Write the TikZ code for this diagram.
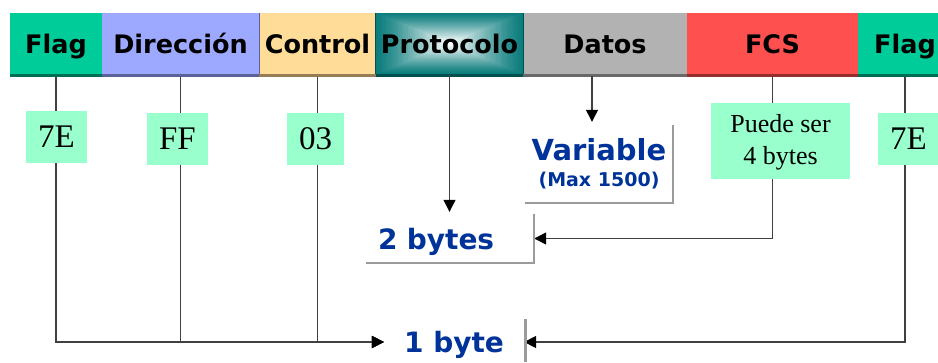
\documentclass[tikz,border=0pt]{standalone}
\usepackage{fontspec}
\setmainfont{Liberation Serif}
\newfontfamily\vfont{DejaVu Sans}
\usetikzlibrary{arrows.meta,calc}
\pgfdeclarelayer{background}
\pgfsetlayers{background,main}
\definecolor{flagc}{RGB}{0,204,153}
\definecolor{flagd}{RGB}{0,110,85}
\definecolor{dirc}{RGB}{157,169,255}
\definecolor{dird}{RGB}{90,99,153}
\definecolor{ctrlc}{RGB}{255,221,153}
\definecolor{ctrld}{RGB}{150,125,85}
\definecolor{protoc}{RGB}{12,125,125}
\definecolor{protod}{RGB}{0,80,80}
\definecolor{datosc}{RGB}{178,178,178}
\definecolor{datosd}{RGB}{105,105,105}
\definecolor{fcsc}{RGB}{255,80,80}
\definecolor{fcsd}{RGB}{150,45,45}
\definecolor{boxc}{RGB}{153,255,204}
\definecolor{bluet}{RGB}{0,51,153}
\definecolor{linec}{RGB}{64,64,64}
\definecolor{shadc}{RGB}{155,155,155}
\tikzset{
  seg/.style={rectangle, inner sep=0pt, minimum height=61pt,
    font=\vfont\bfseries\fontsize{25.5}{30}\selectfont,
    text height=19pt, text depth=0pt},
  valbox/.style={rectangle, fill=boxc, inner sep=0pt,
    font=\fontsize{33}{36}\selectfont},
  bluetxt/.style={text=bluet, font=\vfont\bfseries\fontsize{28}{30}\selectfont},
  conn/.style={draw=linec, line width=1.3pt},
  arr/.style={conn, -{Triangle[length=12pt,width=12pt,color=black]}},
  shadl/.style={draw=shadc, line width=2.2pt},
}
\begin{document}
\begin{tikzpicture}[x=1pt,y=-1pt]
\useasboundingbox (0,0) rectangle (938,362);
\begin{pgfonlayer}{background}
\fill[white] (0,0) rectangle (938,362);
\end{pgfonlayer}
% header segments
\node[seg, fill=flagc, minimum width=92pt] (flag1) at (56,43.5) {Flag};
\node[seg, fill=dirc, minimum width=157pt] (dir) at (180.5,43.5) {Dirección};
\node[seg, fill=ctrlc, minimum width=117pt] (ctrl) at (317.5,43.5) {Control};
\node[seg, minimum width=147pt] (proto) at (449.5,43.5) {Protocolo};
\node[seg, fill=datosc, minimum width=164pt] (datos) at (605,43.5) {Datos};
\node[seg, fill=fcsc, minimum width=171pt] (fcs) at (772.5,43.5) {FCS};
\node[seg, fill=flagc, minimum width=94pt] (flag2) at (905,43.5) {Flag};
% rectangular gradient of the Protocolo field
\begin{pgfonlayer}{background}
\foreach \i in {0,...,29} {
  \pgfmathsetmacro\s{1-\i/30}
  \pgfmathsetmacro\p{100*(\i/29)^1.2}
  \fill[white!\p!protoc] ($(proto.center)+(-73.5*\s,-30.5*\s)$) rectangle ($(proto.center)+(73.5*\s,30.5*\s)$);
}
\end{pgfonlayer}
% bottom shadows of the header
\foreach \s/\c in {flag1/flagd,dir/dird,ctrl/ctrld,proto/protod,datos/datosd,fcs/fcsd,flag2/flagd}
  \draw[\c, line width=2.4pt] ([yshift=-1.2pt]\s.south west) -- ([yshift=-1.2pt]\s.south east);
\draw[protod, line width=1pt] (proto.north west) -- (proto.south west);
\draw[protod, line width=1pt] (proto.north east) -- (proto.south east);
\draw[dird, line width=0.8pt] (dir.north east) -- (dir.south east);
% value boxes
\node[valbox, minimum width=61pt, minimum height=52pt] (v1) at (56.5,137) {7E};
\node[valbox, minimum width=61pt, minimum height=52pt] (v2) at (177.5,139) {FF};
\node[valbox, minimum width=57pt, minimum height=52pt] (v3) at (315.5,139) {03};
\node[valbox, minimum width=139pt, minimum height=76pt, align=center,
      font=\fontsize{26}{32}\selectfont, text depth=4pt] (v4) at (780.5,141) {Puede ser\\4 bytes};
\node[valbox, minimum width=61pt, minimum height=52pt] (v5) at (908.5,139) {7E};
% size labels
\node[text=bluet, font=\vfont\bfseries\fontsize{29}{26}\selectfont, align=center,
      inner sep=0pt, minimum width=148pt, minimum height=78pt] (var) at (599,164)
      {Variable\\{\fontsize{19}{26}\selectfont (Max 1500)}};
\node[bluetxt, inner xsep=12pt, inner ysep=0pt, text width=144pt, align=left,
      minimum height=49pt, text height=21pt, text depth=0pt] (twob) at (450,238.5) {2 bytes};
\node[bluetxt, inner xsep=20pt, inner ysep=0pt, text height=21pt, text depth=0pt] (oneb) at (454,342) {1 byte};
\coordinate (dline) at (592,76);
% shadows of labels
\draw[shadl] (var.north east) -- (var.south east) -- (var.south west);
\draw[shadl] (twob.north east) -- (twob.south east) -- (twob.south west);
\draw[shadl] (525.5,319) -- (525.5,362);
% connectors
\begin{pgfonlayer}{background}
\draw[arr] (flag1.south) |- (oneb.west);
\draw[arr] (dir.south) |- (oneb.west);
\draw[arr] (ctrl.south) |- (oneb.west);
\draw[arr] (flag2.south) |- (oneb.east);
\draw[arr] (fcs.south) |- (twob.east);
\end{pgfonlayer}
\draw[arr, shorten >=2pt] (proto.south) -- (proto.south |- twob.north);
\draw[arr, shorten >=3pt] (dline) -- (dline |- var.north);
\end{tikzpicture}
\end{document}
